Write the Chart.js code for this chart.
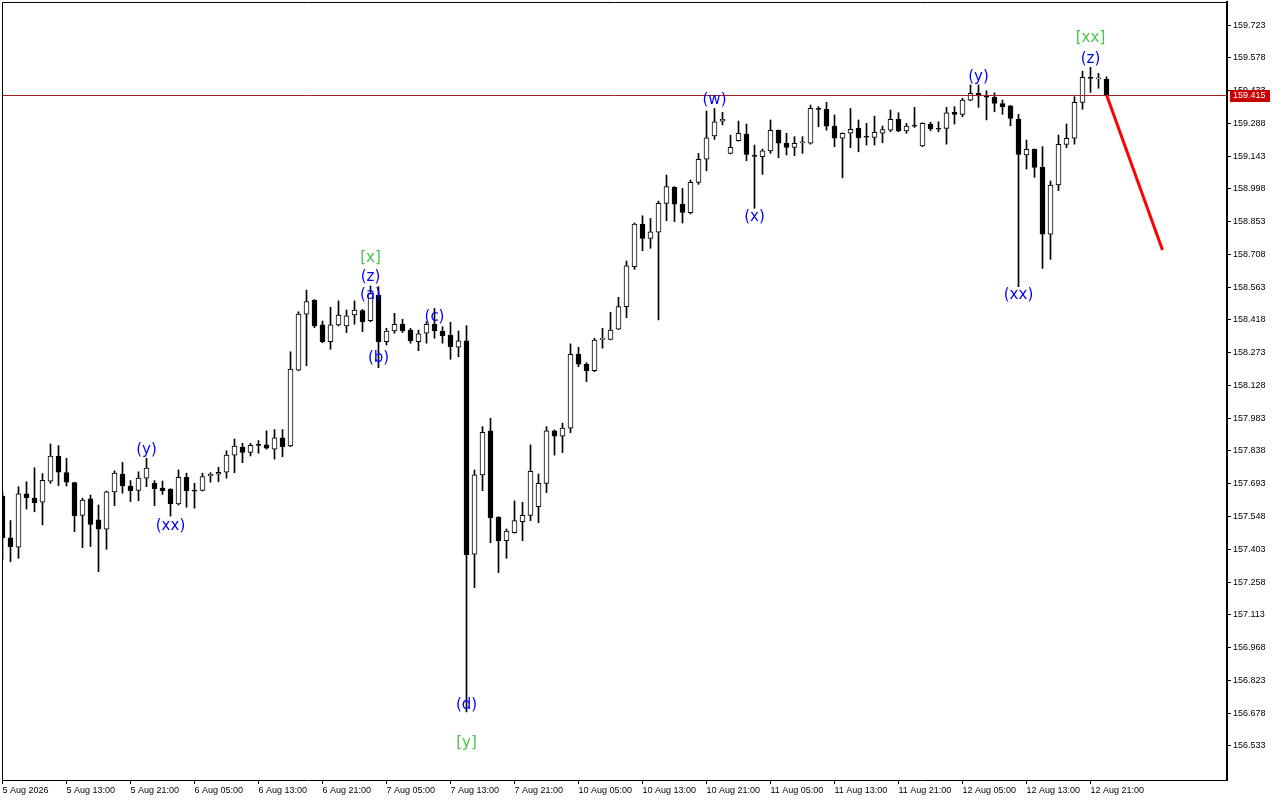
<!DOCTYPE html>
<html>
<head>
<meta charset="utf-8">
<title>H1 chart</title>
<script src="https://cdn.jsdelivr.net/npm/chart.js@4.4.1/dist/chart.umd.min.js"></script>
<style>
  html, body { margin: 0; padding: 0; background: #fff; }
  #wrap { width: 1280px; height: 800px; }
</style>
</head>
<body>
<div id="wrap"><canvas id="chart" width="1280" height="800"></canvas></div>
<script>
// hourly candles, 5 Aug 05:00 .. 12 Aug 23:00
const opens = [
  157.639, 157.454, 157.412, 157.648, 157.630, 157.611, 157.705, 157.816, 157.742, 157.698,
  157.553, 157.626, 157.533, 157.492, 157.657, 157.736, 157.683, 157.664, 157.718, 157.695,
  157.674, 157.669, 157.604, 157.721, 157.665, 157.664, 157.728, 157.735, 157.744, 157.820,
  157.854, 157.832, 157.868, 157.865, 157.846, 157.896, 157.860, 158.196, 158.443, 158.506,
  158.396, 158.322, 158.396, 158.391, 158.440, 158.459, 158.415, 158.528, 158.322, 158.369,
  158.400, 158.373, 158.322, 158.359, 158.399, 158.369, 158.351, 158.297, 158.325, 157.381,
  157.732, 157.927, 157.545, 157.441, 157.477, 157.525, 157.553, 157.592, 157.695, 157.927,
  157.904, 157.939, 158.266, 158.222, 158.193, 158.332, 158.332, 158.377, 158.477, 158.654,
  158.842, 158.779, 158.806, 158.934, 159.005, 158.930, 158.893, 159.027, 159.129, 159.232,
  159.298, 159.155, 159.211, 159.241, 159.145, 159.140, 159.166, 159.257, 159.200, 159.182,
  159.202, 159.200, 159.353, 159.350, 159.276, 159.222, 159.244, 159.266, 159.231, 159.226,
  159.244, 159.258, 159.306, 159.255, 159.277, 159.188, 159.284, 159.264, 159.266, 159.337,
  159.328, 159.391, 159.421, 159.407, 159.403, 159.376, 159.365, 159.307, 159.148, 159.173,
  159.093, 158.797, 159.015, 159.195, 159.222, 159.381, 159.492, 159.485, 159.483
];
const highs = [
  157.657, 157.530, 157.680, 157.702, 157.764, 157.738, 157.869, 157.862, 157.806, 157.700,
  157.629, 157.643, 157.599, 157.661, 157.750, 157.788, 157.707, 157.746, 157.806, 157.707,
  157.705, 157.671, 157.754, 157.740, 157.695, 157.740, 157.742, 157.766, 157.839, 157.891,
  157.872, 157.872, 157.884, 157.927, 157.933, 157.933, 158.277, 158.454, 158.550, 158.508,
  158.413, 158.474, 158.502, 158.462, 158.502, 158.465, 158.568, 158.565, 158.381, 158.447,
  158.421, 158.381, 158.373, 158.410, 158.469, 158.388, 158.408, 158.369, 158.393, 157.754,
  157.946, 157.983, 157.547, 157.493, 157.617, 157.611, 157.865, 157.736, 157.946, 157.931,
  157.961, 158.312, 158.297, 158.229, 158.337, 158.381, 158.452, 158.518, 158.679, 158.847,
  158.879, 158.867, 158.944, 159.059, 159.008, 159.000, 159.037, 159.155, 159.343, 159.354,
  159.337, 159.236, 159.298, 159.285, 159.192, 159.174, 159.303, 159.259, 159.244, 159.229,
  159.229, 159.369, 159.362, 159.381, 159.325, 159.246, 159.354, 159.303, 159.288, 159.320,
  159.276, 159.347, 159.335, 159.288, 159.359, 159.291, 159.293, 159.295, 159.359, 159.362,
  159.399, 159.458, 159.458, 159.432, 159.423, 159.391, 159.367, 159.328, 159.214, 159.175,
  159.185, 159.033, 159.236, 159.285, 159.406, 159.519, 159.536, 159.509, 159.494
];
const lows = [
  157.356, 157.348, 157.363, 157.581, 157.569, 157.511, 157.695, 157.685, 157.683, 157.481,
  157.410, 157.415, 157.304, 157.403, 157.596, 157.651, 157.614, 157.618, 157.680, 157.596,
  157.646, 157.550, 157.599, 157.589, 157.585, 157.661, 157.700, 157.702, 157.718, 157.742,
  157.786, 157.816, 157.828, 157.846, 157.802, 157.813, 157.857, 158.193, 158.215, 158.384,
  158.317, 158.288, 158.391, 158.362, 158.399, 158.366, 158.410, 158.207, 158.307, 158.359,
  158.362, 158.315, 158.282, 158.315, 158.337, 158.315, 158.244, 158.255, 156.683, 157.233,
  157.662, 157.432, 157.300, 157.363, 157.475, 157.441, 157.530, 157.521, 157.654, 157.820,
  157.831, 157.919, 158.211, 158.145, 158.189, 158.293, 158.330, 158.375, 158.428, 158.642,
  158.724, 158.735, 158.418, 158.857, 158.853, 158.847, 158.887, 159.018, 159.078, 159.217,
  159.281, 159.153, 159.209, 159.123, 158.912, 159.062, 159.155, 159.136, 159.148, 159.145,
  159.155, 159.196, 159.273, 159.258, 159.185, 159.047, 159.180, 159.162, 159.192, 159.192,
  159.202, 159.251, 159.251, 159.244, 159.270, 159.185, 159.255, 159.251, 159.196, 159.285,
  159.317, 159.388, 159.359, 159.303, 159.339, 159.328, 159.277, 158.565, 159.086, 159.049,
  158.646, 158.686, 158.990, 159.180, 159.196, 159.350, 159.425, 159.443, 159.413
];
const closes = [
  157.453, 157.415, 157.648, 157.631, 157.609, 157.708, 157.816, 157.744, 157.700, 157.552,
  157.621, 157.513, 157.492, 157.657, 157.740, 157.683, 157.662, 157.718, 157.762, 157.671,
  157.662, 157.604, 157.721, 157.661, 157.660, 157.725, 157.735, 157.744, 157.820, 157.860,
  157.832, 157.863, 157.863, 157.850, 157.896, 157.857, 158.200, 158.444, 158.499, 158.392,
  158.322, 158.396, 158.440, 158.436, 158.462, 158.410, 158.536, 158.322, 158.369, 158.399,
  158.370, 158.326, 158.356, 158.399, 158.369, 158.348, 158.300, 158.325, 157.378, 157.732,
  157.921, 157.543, 157.441, 157.484, 157.530, 157.553, 157.748, 157.695, 157.927, 157.904,
  157.939, 158.266, 158.222, 158.192, 158.329, 158.335, 158.373, 158.477, 158.657, 158.842,
  158.779, 158.808, 158.934, 159.008, 158.930, 158.894, 159.027, 159.129, 159.224, 159.295,
  159.306, 159.182, 159.244, 159.151, 159.142, 159.166, 159.257, 159.200, 159.182, 159.200,
  159.205, 159.354, 159.350, 159.276, 159.222, 159.244, 159.262, 159.224, 159.227, 159.248,
  159.260, 159.306, 159.255, 159.276, 159.275, 159.288, 159.263, 159.262, 159.335, 159.328,
  159.391, 159.421, 159.409, 159.404, 159.376, 159.361, 159.310, 159.151, 159.173, 159.093,
  158.797, 159.015, 159.195, 159.222, 159.381, 159.492, 159.487, 159.489, 159.415
];

// time labels, one every 8 candles
const xTickLabels = [
  '5 Aug 2026', '5 Aug 13:00', '5 Aug 21:00', '6 Aug 05:00', '6 Aug 13:00', '6 Aug 21:00',
  '7 Aug 05:00', '7 Aug 13:00', '7 Aug 21:00', '10 Aug 05:00', '10 Aug 13:00', '10 Aug 21:00',
  '11 Aug 05:00', '11 Aug 13:00', '11 Aug 21:00', '12 Aug 05:00', '12 Aug 13:00', '12 Aug 21:00'
];
const yTicks = [
  159.723, 159.578, 159.433, 159.288, 159.143, 158.998, 158.853, 158.708, 158.563, 158.418,
  158.273, 158.128, 157.983, 157.838, 157.693, 157.548, 157.403, 157.258, 157.113, 156.968,
  156.823, 156.678, 156.533
];
const yMin = 156.382;
const yMax = 159.825;

// wave marks (candle index, price)
const waveText  = ['(y)', '(xx)', '[x]', '(z)', '(a)', '(b)', '(c)', '(d)', '[y]', '(w)', '(x)', '(y)', '(xx)', '(z)', '[xx]'];
const waveIdx   = [18, 21, 46, 46, 46, 47, 54, 58, 58, 89, 94, 122, 127, 136, 136];
const wavePrice = [157.840, 157.506, 158.692, 158.608, 158.526, 158.247, 158.431, 156.714, 156.546,
                   159.391, 158.873, 159.491, 158.528, 159.573, 159.663];
const waveColor = ['#0000ff', '#0000ff', '#44c844', '#0000ff', '#0000ff', '#0000ff', '#0000ff', '#0000ff', '#44c844',
                   '#0000ff', '#0000ff', '#0000ff', '#0000ff', '#0000ff', '#44c844'];

// projected path
const forecastIdx = [138, 145];
const forecastPrice = [159.415, 158.727];

const idx = opens.map((_, i) => i);
const bodies = idx.map(i => ({ x: i, y: [opens[i], closes[i]] }));
const wicks = idx.map(i => ({ x: i, y: [lows[i], highs[i]] }));
const bodyColors = idx.map(i => (closes[i] >= opens[i] ? '#ffffff' : '#000000'));
const forecast = forecastIdx.map((x, k) => ({ x: x, y: forecastPrice[k] }));
const lastClose = closes[closes.length - 1];

const overlay = {
  id: 'overlay',
  afterDatasetsDraw(chart) {
    const { ctx, chartArea: a, scales: { x, y } } = chart;
    ctx.save();
    // bid line
    const py = Math.round(y.getPixelForValue(lastClose)) + 0.5;
    ctx.strokeStyle = '#a82020';
    ctx.lineWidth = 1;
    ctx.beginPath();
    ctx.moveTo(a.left, py);
    ctx.lineTo(a.right, py);
    ctx.stroke();
    // wave labels
    ctx.font = '15px "DejaVu Sans"';
    ctx.textAlign = 'center';
    ctx.textBaseline = 'middle';
    waveText.forEach((t, k) => {
      ctx.fillStyle = waveColor[k];
      ctx.fillText(t, x.getPixelForValue(waveIdx[k]), y.getPixelForValue(wavePrice[k]));
    });
    ctx.restore();
  },
  afterDraw(chart) {
    const { ctx, chartArea: a, scales: { y } } = chart;
    ctx.save();
    // frame
    ctx.strokeStyle = '#000';
    ctx.lineWidth = 1;
    ctx.beginPath();
    ctx.moveTo(a.left + 0.5, a.bottom);
    ctx.lineTo(a.left + 0.5, a.top + 0.5);
    ctx.lineTo(a.right, a.top + 0.5);
    ctx.stroke();
    // price tag
    const py = Math.round(y.getPixelForValue(lastClose));
    ctx.fillStyle = '#c80000';
    ctx.fillRect(a.right + 3, py - 5, 40, 12);
    ctx.fillStyle = '#fff';
    ctx.font = '9px "Liberation Sans"';
    ctx.textAlign = 'left';
    ctx.textBaseline = 'middle';
    ctx.fillText(lastClose.toFixed(3), a.right + 6, py + 1);
    ctx.restore();
  }
};

new Chart(document.getElementById('chart'), {
  type: 'bar',
  data: {
    datasets: [
      {
        type: 'line',
        data: forecast,
        borderColor: '#ff0000',
        borderWidth: 3,
        pointRadius: 0,
        order: 0
      },
      {
        data: bodies,
        barThickness: 5,
        backgroundColor: bodyColors,
        borderColor: '#000',
        borderWidth: 1,
        borderSkipped: false,
        grouped: false,
        minBarLength: 1,
        order: 1
      },
      {
        data: wicks,
        barThickness: 1,
        backgroundColor: '#000',
        borderWidth: 0,
        grouped: false,
        order: 2
      }
    ]
  },
  options: {
    responsive: false,
    animation: false,
    devicePixelRatio: 1,
    layout: { padding: { left: 2, top: 2, right: 0, bottom: 0 } },
    plugins: { legend: { display: false }, tooltip: { enabled: false } },
    scales: {
      x: {
        type: 'linear',
        min: -0.0625,
        max: 153.0625,
        offset: false,
        bounds: 'data',
        afterBuildTicks: s => { s.ticks = xTickLabels.map((_, k) => ({ value: k * 8 })); },
        afterFit: s => { s.height = 20; s.paddingLeft = 0; s.paddingRight = 0; },
        grid: { display: true, offset: false, drawOnChartArea: false, drawTicks: true, tickLength: 4, tickColor: '#000' },
        border: { display: true, color: '#000', width: 1 },
        ticks: {
          autoSkip: false,
          maxRotation: 0,
          align: 'start',
          padding: 1,
          color: '#000',
          font: { family: 'Liberation Sans', size: 9 },
          callback: (v, k) => xTickLabels[k]
        }
      },
      y: {
        type: 'linear',
        position: 'right',
        min: yMin,
        max: yMax,
        bounds: 'data',
        afterBuildTicks: s => { s.ticks = yTicks.map(v => ({ value: v })); },
        afterFit: s => { s.width = 53; s.paddingTop = 0; s.paddingBottom = 0; },
        grid: { display: true, drawOnChartArea: false, drawTicks: true, tickLength: 4, tickColor: '#000' },
        border: { display: true, color: '#000', width: 2 },
        ticks: {
          autoSkip: false,
          padding: 2,
          color: '#000',
          font: { family: 'Liberation Sans', size: 9 },
          callback: v => v.toFixed(3)
        }
      }
    }
  },
  plugins: [overlay]
});
</script>
</body>
</html>
